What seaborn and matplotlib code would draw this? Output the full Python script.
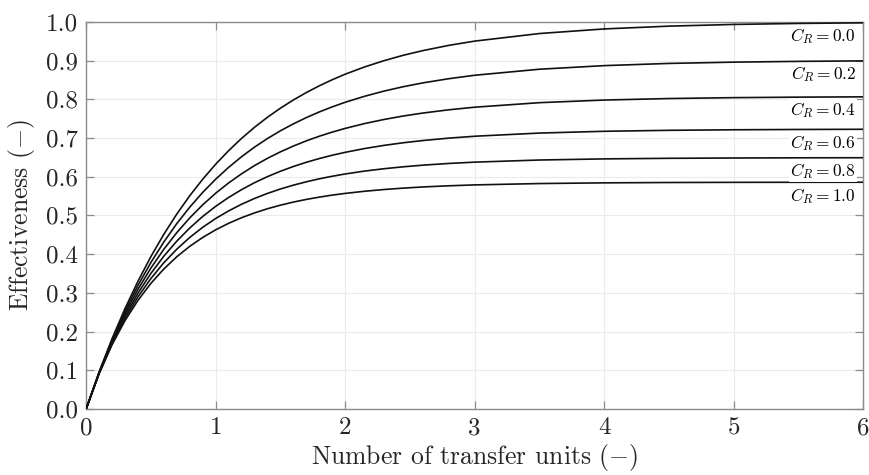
import matplotlib
matplotlib.use("Agg")
import matplotlib.pyplot as plt
import numpy as np
import pandas as pd
import seaborn as sns

# Effectiveness of a shell-and-tube exchanger (one shell pass) vs NTU
ntu = [0.0, 0.1, 0.2, 0.3, 0.4, 0.5, 0.6, 0.7, 0.8, 0.9, 1.0,
       1.1, 1.2, 1.3, 1.4, 1.5, 1.6, 1.7, 1.8, 1.9, 2.0,
       2.15, 2.3, 2.45, 2.6, 2.8, 3.0, 3.5, 4.0, 4.5, 5.0, 5.5, 6.0]

capacity_ratios = ["0.0", "0.2", "0.4", "0.6", "0.8", "1.0"]

eff_cr00 = [0.0, 0.0952, 0.1813, 0.2592, 0.3297, 0.3935, 0.4512, 0.5034, 0.5507, 0.5934, 0.6321,
            0.6671, 0.6988, 0.7275, 0.7534, 0.7769, 0.7981, 0.8173, 0.8347, 0.8504, 0.8647,
            0.8835, 0.8997, 0.9137, 0.9257, 0.9392, 0.9502, 0.9698, 0.9817, 0.9889, 0.9933, 0.9959, 0.9975]
eff_cr02 = [0.0, 0.0943, 0.1780, 0.2526, 0.3190, 0.3783, 0.4313, 0.4788, 0.5212, 0.5593, 0.5934,
            0.6240, 0.6515, 0.6763, 0.6985, 0.7185, 0.7364, 0.7526, 0.7672, 0.7803, 0.7922,
            0.8077, 0.8211, 0.8325, 0.8423, 0.8531, 0.8620, 0.8776, 0.8869, 0.8926, 0.8959, 0.8979, 0.8992]
eff_cr04 = [0.0, 0.0934, 0.1749, 0.2462, 0.3088, 0.3639, 0.4125, 0.4555, 0.4935, 0.5272, 0.5572,
            0.5838, 0.6074, 0.6286, 0.6474, 0.6641, 0.6791, 0.6925, 0.7045, 0.7151, 0.7247,
            0.7372, 0.7478, 0.7568, 0.7644, 0.7728, 0.7795, 0.7912, 0.7980, 0.8019, 0.8042, 0.8055, 0.8063]
eff_cr06 = [0.0, 0.0925, 0.1717, 0.2400, 0.2989, 0.3501, 0.3946, 0.4335, 0.4674, 0.4972, 0.5233,
            0.5463, 0.5665, 0.5844, 0.6001, 0.6140, 0.6263, 0.6372, 0.6468, 0.6554, 0.6629,
            0.6727, 0.6809, 0.6877, 0.6934, 0.6996, 0.7045, 0.7127, 0.7173, 0.7198, 0.7212, 0.7220, 0.7225]
eff_cr08 = [0.0, 0.0916, 0.1687, 0.2340, 0.2895, 0.3369, 0.3777, 0.4127, 0.4430, 0.4692, 0.4919,
            0.5116, 0.5288, 0.5437, 0.5568, 0.5682, 0.5781, 0.5868, 0.5945, 0.6011, 0.6070,
            0.6145, 0.6206, 0.6256, 0.6298, 0.6342, 0.6376, 0.6431, 0.6460, 0.6475, 0.6483, 0.6488, 0.6490]
eff_cr10 = [0.0, 0.0908, 0.1658, 0.2281, 0.2804, 0.3244, 0.3616, 0.3932, 0.4201, 0.4430, 0.4627,
            0.4795, 0.4940, 0.5064, 0.5172, 0.5264, 0.5344, 0.5413, 0.5472, 0.5524, 0.5568,
            0.5624, 0.5669, 0.5705, 0.5735, 0.5765, 0.5788, 0.5823, 0.5841, 0.5850, 0.5854, 0.5856, 0.5857]

series = [eff_cr00, eff_cr02, eff_cr04, eff_cr06, eff_cr08, eff_cr10]

df = pd.concat(
    [pd.DataFrame({"NTU": ntu, "eff": vals, "CR": cr})
     for cr, vals in zip(capacity_ratios, series)],
    ignore_index=True,
)

sns.set_theme(style="ticks")
plt.rcParams.update({
    "font.family": ["cmr10"],
    "mathtext.fontset": "cm",
    "axes.formatter.use_mathtext": True,
    "axes.unicode_minus": False,
})

axis_gray = "#8c8c8c"
text_gray = "#262626"

fig = plt.figure(figsize=(8.7, 4.75), dpi=100)
ax = fig.add_axes([0.099, 0.139, 0.893, 0.815])

sns.lineplot(data=df, x="NTU", y="eff", hue="CR", palette=["#111111"] * 6,
             legend=False, linewidth=1.2, ax=ax, zorder=3)

ax.set_xlim(0, 6)
ax.set_ylim(0, 1)
ax.set_xticks(np.arange(0, 7, 1))
ax.set_yticks(np.arange(0, 1.01, 0.1))
ax.set_xticklabels([str(i) for i in range(7)])
ax.set_yticklabels([f"{v:.1f}" for v in np.arange(0, 1.01, 0.1)])

ax.grid(True, color="#ebebeb", linewidth=0.8, zorder=0)
ax.set_axisbelow(True)
for sp in ax.spines.values():
    sp.set_color(axis_gray)
    sp.set_linewidth(1.0)
    sp.set_visible(True)
ax.tick_params(direction="in", length=5.5, width=0.9, color=axis_gray,
               top=True, right=True, labelsize=18, labelcolor=text_gray, pad=6)

ax.set_xlabel(r"Number of transfer units $(-)$", fontsize=18.5, color=text_gray,
              labelpad=2)
ax.set_ylabel(r"Effectiveness $(-)$", fontsize=18.5, color=text_gray, labelpad=6)

# curve labels at the right end, just under each line
for cr, vals in zip(capacity_ratios, series):
    ax.annotate(rf"$C_R = {cr}$", xy=(ntu[-1], vals[-1]), xytext=(-5, -2.5),
                textcoords="offset points", ha="right", va="top", fontsize=12.5,
                color="black", zorder=4,
                bbox=dict(boxstyle="square,pad=0.05", fc="white", ec="none"))

fig.savefig("out.png", dpi=100)
